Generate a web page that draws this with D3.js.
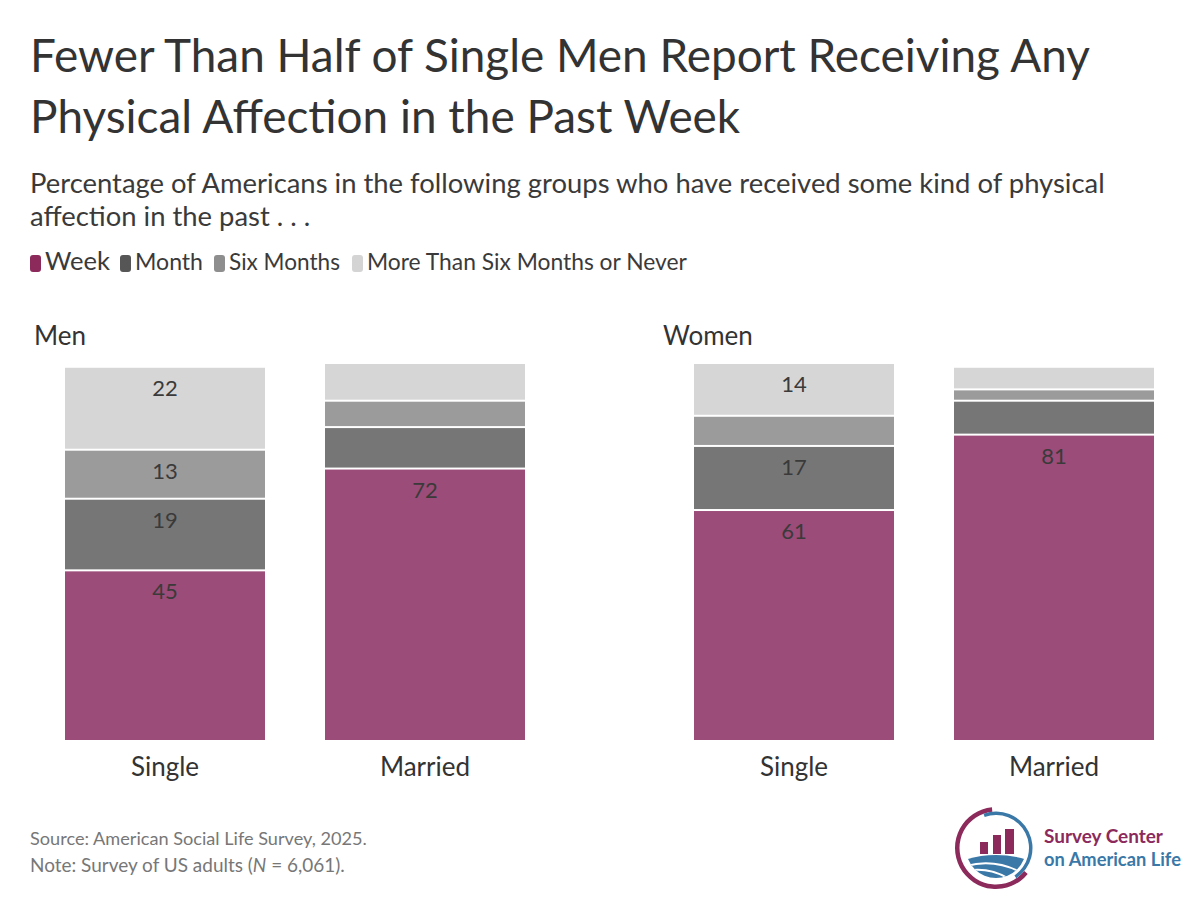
<!DOCTYPE html>
<html>
<head>
<meta charset="utf-8">
<script src="https://cdn.jsdelivr.net/npm/d3@7"></script>
<style>
  html, body { margin: 0; padding: 0; background: #fff; }
  svg { display: block; }
  text { font-family: Lato, "Open Sans", sans-serif; }
</style>
</head>
<body>
<svg id="chart" width="1199" height="906"></svg>
<script>
// ---- data ----
const titleLines = ["Fewer Than Half of Single Men Report Receiving Any", "Physical Affection in the Past Week"];
const subtitleLines = ["Percentage of Americans in the following groups who have received some kind of physical", "affection in the past . . ."];
const groups = ["Men", "Women"];
const categories = ["Single", "Married"];
const seriesNames = ["Week", "Month", "Six Months", "More Than Six Months or Never"];
// order: Men Single, Men Married, Women Single, Women Married
const week      = [45, 72, 61, 81];
const month     = [19, 11, 17, 9];
const sixMonths = [13, 7, 8, 3];
const moreThan  = [22, 10, 14, 6];
const footnotes = ["Source: American Social Life Survey, 2025.", "Note: Survey of US adults (N = 6,061)."];

// ---- styles ----
const barColors = ["#9b4c78", "#767676", "#9b9b9b", "#d6d6d6"];
const legendColors = ["#8c2a5c", "#565656", "#8e8e8e", "#d4d4d4"];
const textColor = "#333333";

const svg = d3.select("#chart");

function fitWidth(sel, target) {
  const w = sel.node().getComputedTextLength();
  const fs = parseFloat(sel.attr("font-size"));
  sel.attr("font-size", (fs * target / w).toFixed(2));
}

// Title
const t1 = svg.append("text").attr("x", 30).attr("y", 72).attr("font-size", 50)
  .attr("fill", textColor).text(titleLines[0]);
fitWidth(t1, 1060);
const tfs = t1.attr("font-size");
svg.append("text").attr("x", 30).attr("y", 133).attr("font-size", tfs)
  .attr("fill", textColor).text(titleLines[1]);

// Subtitle
const s1 = svg.append("text").attr("x", 30).attr("y", 193).attr("font-size", 28)
  .attr("fill", "#3a3a3a").text(subtitleLines[0]);
fitWidth(s1, 1075);
svg.append("text").attr("x", 30).attr("y", 226).attr("font-size", s1.attr("font-size"))
  .attr("fill", "#3a3a3a").text(subtitleLines[1]);

// Legend
const legendStarts = [30, 120, 214, 352];
const legendEnds = [110, 203, 340, 687];
seriesNames.forEach((name, i) => {
  const g = svg.append("g");
  g.append("rect").attr("x", legendStarts[i]).attr("y", 255).attr("width", 11).attr("height", 17)
    .attr("rx", 3).attr("fill", legendColors[i]);
  const tx = g.append("text").attr("x", legendStarts[i] + 15).attr("y", 270).attr("font-size", 22)
    .attr("fill", "#3a3a3a").text(name);
  fitWidth(tx, legendEnds[i] - legendStarts[i] - 15);
});

// Chart panels
const y = d3.scaleLinear().domain([0, 100]).range([740, 363]);
const panelRanges = [[35, 555], [664, 1184]];
const panelLabelX = [34, 663];
const seriesArrays = [week, month, sixMonths, moreThan];

groups.forEach((grp, gi) => {
  const x = d3.scaleBand().domain(categories).range(panelRanges[gi]).paddingInner(0.2308).paddingOuter(0.1154);
  const panel = svg.append("g");
  panel.append("text").attr("x", panelLabelX[gi]).attr("y", 345).attr("font-size", 26)
    .attr("fill", textColor).text(grp);

  const rows = categories.map((c, ci) => {
    const idx = gi * 2 + ci;
    const row = { cat: c };
    seriesNames.forEach((s, si) => row[s] = seriesArrays[si][idx]);
    return row;
  });
  const stack = d3.stack().keys(seriesNames)(rows);

  stack.forEach((layer, si) => {
    layer.forEach(d => {
      const top = y(d[1]) + 1;
      const bottom = d[0] === 0 ? y(0) : y(d[0]) - 1;
      panel.append("rect")
        .attr("x", x(d.data.cat)).attr("width", x.bandwidth())
        .attr("y", top).attr("height", Math.max(0, bottom - top))
        .attr("fill", barColors[si]);
      const v = d[1] - d[0];
      if (v >= 12) {
        panel.append("text")
          .attr("x", x(d.data.cat) + x.bandwidth() / 2)
          .attr("y", y(d[1]) + 29)
          .attr("text-anchor", "middle").attr("font-size", 22)
          .attr("fill", "#3a3a3a").text(v);
      }
    });
  });

  // category axis
  const axis = d3.axisBottom(x).tickSize(0).tickPadding(0);
  const ag = panel.append("g").attr("transform", "translate(0,776)").call(axis);
  ag.select(".domain").remove();
  ag.selectAll("text").attr("font-size", 26).attr("fill", textColor)
    .attr("dy", 0).attr("font-family", "Lato, 'Open Sans', sans-serif");
});

// Footnotes
const f1 = svg.append("text").attr("x", 30).attr("y", 845).attr("font-size", 18).attr("fill", "#777").text(footnotes[0]);
fitWidth(f1, 337);
const f2 = svg.append("text").attr("x", 30).attr("y", 872).attr("font-size", f1.attr("font-size")).attr("fill", "#777");
f2.append("tspan").text("Note: Survey of US adults (");
f2.append("tspan").attr("font-style", "italic").text("N");
f2.append("tspan").text(" = 6,061).");
fitWidth(f2, 315);

// Logo
const logo = svg.append("g").attr("transform", "translate(996,848)");
logo.append("path").attr("d", d3.arc().innerRadius(36.5).outerRadius(41).startAngle(-0.1 - Math.PI * 1.25).endAngle(-0.1)()).attr("fill", "#8c2a5c");
logo.append("path").attr("d", d3.arc().innerRadius(33).outerRadius(36.5).startAngle(-0.35).endAngle(2.55)()).attr("fill", "#3a78a8");
const logoBars = [[-16, -6, 8], [-3, -13, 8], [9, -19, 9]];
logoBars.forEach(b => logo.append("rect").attr("x", b[0]).attr("y", b[1]).attr("width", b[2]).attr("height", 6 - b[1]).attr("fill", "#8c2a5c"));
const defs = svg.append("defs");
defs.append("clipPath").attr("id", "logoClip").append("circle").attr("cx", 0).attr("cy", 0).attr("r", 30);
const dome = logo.append("g").attr("clip-path", "url(#logoClip)");
dome.append("path").attr("d", "M-32,12 Q0,2 32,12 L32,40 L-32,40 Z").attr("fill", "#3a78a8");
dome.append("path").attr("d", "M-30,18 Q0,10 28,26").attr("stroke", "#fff").attr("stroke-width", 2).attr("fill", "none");
dome.append("path").attr("d", "M-30,23 Q-5,18 18,34").attr("stroke", "#fff").attr("stroke-width", 2).attr("fill", "none");
const lt1 = logo.append("text").attr("x", 48).attr("y", -5).attr("font-size", 19).attr("font-weight", 700).attr("fill", "#8c2a5c")
  .attr("font-family", "'Open Sans', Lato, sans-serif").text("Survey Center");
fitWidth(lt1, 119);
const lt2 = logo.append("text").attr("x", 48).attr("y", 18).attr("font-size", 19).attr("font-weight", 700).attr("fill", "#3a78a8")
  .attr("font-family", "'Open Sans', Lato, sans-serif").text("on American Life");
fitWidth(lt2, 137);
</script>
</body>
</html>
